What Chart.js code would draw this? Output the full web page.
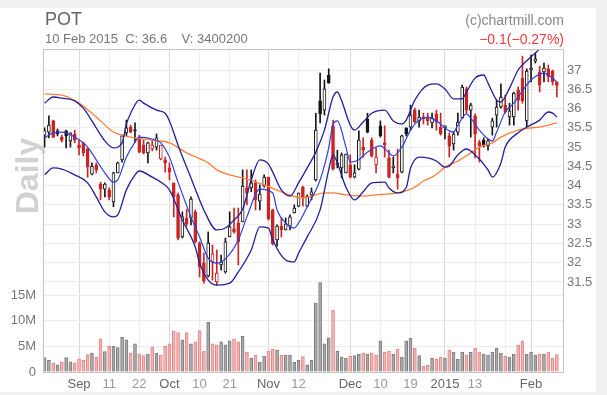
<!DOCTYPE html>
<html>
<head>
<meta charset="utf-8">
<script src="https://cdn.jsdelivr.net/npm/chart.js@4.4.1/dist/chart.umd.min.js"></script>
<style>
  html, body { margin: 0; padding: 0; background: #f0f0f0; }
  #wrap { position: relative; width: 607px; height: 395px; overflow: hidden; }
  #panel { position: absolute; left: 0; top: 8px; width: 596px; height: 384px; background: #fff; }
  canvas { position: absolute; left: 0; top: 0; }
  .t { position: absolute; font-family: 'Liberation Sans', Arial, sans-serif; white-space: pre; line-height: 1; }
</style>
</head>
<body>
<div id="wrap">
  <div id="panel"></div>
  <canvas id="chart" width="607" height="395"></canvas>
  <div class="t" style="left:45px;top:10px;font-size:18px;color:#666">POT</div>
  <div class="t" style="left:45px;top:32px;font-size:13px;color:#777">10 Feb 2015  C: 36.6    V: 3400200</div>
  <div class="t" style="right:43px;top:13px;font-size:14px;color:#888">(c)chartmill.com</div>
  <div class="t" style="right:43px;top:32px;font-size:14px;color:#f03a3a">−0.1(−0.27%)</div>
</div>
<script>
/* ── POT daily, 20 Aug 2014 – 10 Feb 2015 (one entry per trading day) ── */

const open = [35.31,35.39,35.68,35.42,35.26,35.42,35.16,35.34,35.05,35.11,
  34.95,34.30,34.54,34.04,33.91,33.89,33.58,34.33,34.67,35.37,
  35.52,35.44,35.26,35.05,34.85,34.95,35.00,34.69,34.67,34.46,
  34.07,33.76,32.67,33.16,33.16,33.32,32.51,31.99,31.66,32.02,
  31.50,31.94,31.76,32.67,32.88,33.03,33.06,33.94,33.94,34.07,
  33.60,33.99,34.22,33.37,32.59,32.95,32.85,32.95,33.29,33.47,
  33.96,33.47,33.76,34.15,36.20,35.96,36.87,35.55,34.54,34.46,
  34.33,34.54,34.22,34.43,35.00,35.73,35.18,34.54,35.55,35.11,
  34.72,34.46,34.30,34.35,35.50,35.52,35.96,35.68,35.78,35.75,
  35.63,35.86,35.52,35.50,35.29,35.08,35.39,35.75,36.51,35.96,
  35.81,35.13,35.18,35.03,35.52,35.83,36.04,36.09,35.78,35.78,
  36.48,36.79,35.68,37.00,37.23,36.95,36.95,37.03,36.97,36.69];
const high = [35.50,35.81,35.70,35.47,35.31,35.44,35.37,35.44,35.18,35.13,
  34.98,34.59,34.59,34.09,34.07,33.94,34.35,34.61,35.31,35.70,
  35.57,35.63,35.31,35.18,35.13,35.18,35.34,35.05,34.74,34.59,
  34.07,33.81,33.32,33.39,33.71,33.37,32.54,32.25,32.80,32.46,
  32.33,32.20,32.64,33.32,33.42,33.42,34.41,34.41,34.41,34.15,
  34.02,34.28,34.22,33.39,32.98,33.16,33.16,33.24,33.50,33.81,
  33.99,33.76,33.94,35.88,36.92,36.74,37.03,35.70,34.92,34.85,
  34.82,34.80,34.54,35.42,35.24,35.88,35.24,34.98,35.68,35.55,
  34.92,34.74,34.95,35.31,35.50,36.09,36.01,35.96,35.88,35.88,
  35.88,35.96,35.88,35.55,35.37,35.39,35.88,36.61,36.56,36.14,
  35.86,35.18,35.24,35.21,35.75,36.22,36.64,36.35,36.14,36.43,
  36.56,37.36,37.03,37.39,37.44,37.10,37.18,37.13,37.00,36.69];
const low = [35.00,35.24,35.24,35.29,35.13,34.98,35.00,35.11,34.80,34.77,
  34.22,34.28,34.33,33.63,33.71,33.63,33.45,34.33,34.61,35.29,
  35.37,35.13,34.85,34.82,34.59,34.90,34.92,34.67,34.35,34.15,
  33.19,32.59,32.64,32.95,32.98,32.51,31.63,31.47,31.63,31.55,
  31.42,31.81,31.73,32.67,32.77,31.94,33.06,33.50,33.84,33.37,
  33.37,33.96,33.11,32.46,32.43,32.67,32.85,32.85,33.29,33.45,
  33.47,33.45,33.63,34.12,35.63,35.83,36.66,34.41,34.46,34.20,
  34.33,34.20,34.20,34.41,34.74,35.37,34.74,34.33,35.26,34.74,
  34.20,34.33,33.91,34.33,35.29,35.44,35.63,35.52,35.60,35.57,
  35.50,35.44,35.31,35.21,34.74,34.92,35.31,35.75,35.88,35.26,
  34.72,34.61,35.00,34.92,35.31,35.52,36.01,35.88,35.57,35.57,
  35.96,36.14,35.52,36.69,37.18,36.43,36.69,36.69,36.61,36.30];
const close = [35.42,35.57,35.26,35.34,35.18,35.29,35.37,35.18,34.98,34.85,
  34.48,34.50,34.41,33.91,34.04,33.71,34.33,34.59,35.29,35.50,
  35.39,35.42,34.87,34.85,35.11,35.05,35.24,35.05,34.59,34.35,
  33.71,32.64,33.19,33.01,33.65,32.54,31.89,31.53,32.51,32.23,
  31.73,32.02,32.54,32.93,32.80,32.54,33.99,33.81,34.07,33.63,
  33.78,34.22,33.13,32.49,32.95,32.85,33.01,33.19,33.42,33.81,
  33.70,33.73,33.84,35.44,35.86,36.51,36.66,34.43,34.59,34.80,
  34.82,34.22,34.33,35.18,34.92,35.39,34.77,34.74,35.29,35.05,
  34.22,34.51,34.20,35.29,35.34,35.83,35.65,35.78,35.73,35.68,
  35.75,35.65,35.34,35.55,35.03,35.34,35.65,36.56,35.96,36.09,
  35.34,35.03,35.05,35.16,35.68,36.04,36.30,35.91,35.94,36.40,
  36.22,36.20,36.97,37.05,37.29,36.61,37.05,36.82,36.70,36.60];
// volume in millions of shares
const volume = [2.8,2.3,1.7,1.4,2.0,2.8,2.0,1.8,2.6,2.3,
  3.4,3.7,2.9,6.5,4.0,5.0,5.0,4.8,6.8,6.3,
  3.7,5.5,3.5,3.2,3.5,4.9,3.7,3.3,5.0,5.5,
  8.0,7.7,6.3,7.7,5.5,5.9,8.1,4.1,9.7,5.5,
  5.3,5.9,5.3,6.1,6.5,5.9,7.0,3.9,2.7,3.3,
  1.9,3.1,4.1,4.5,4.3,3.3,3.3,3.3,1.9,2.3,
  3.0,1.4,2.3,13.5,17.5,5.5,6.7,12.1,4.1,2.9,
  2.7,3.1,3.2,3.5,3.7,3.5,3.7,3.3,6.1,3.9,
  4.1,3.5,4.5,2.9,6.1,6.6,4.7,3.2,1.1,1.3,
  2.7,2.5,2.9,2.7,4.3,3.9,2.5,3.9,3.3,3.9,
  4.7,3.9,3.5,3.3,3.9,4.7,3.7,3.1,2.9,3.5,
  5.3,6.1,3.5,3.9,3.3,3.5,3.5,3.9,2.7,3.4];

// Bollinger bands and moving average (day index, price)
const upperIdx = [0,2,4,7,9,11,12,14,16,18,19,20,22,23,26,28,29,31,34,37,40,42,44,46,48,50,52,53,55,57,59,61,63,65,67,68,69,71,72,74,76,79,81,83,84,86,89,91,93,95,97,98,100,102,103,105,106,108,110,111,113,114,116,119];
const upperVal = [36.14,36.30,36.27,36.20,36.01,35.68,35.50,35.16,34.98,35.11,35.60,35.88,36.22,36.14,35.96,35.88,35.68,35.05,34.20,33.37,32.85,32.90,33.11,33.39,34.15,34.67,34.56,34.35,33.89,33.73,34.07,34.46,34.87,35.44,36.30,36.43,36.20,35.57,35.44,35.65,35.88,35.96,35.68,35.60,35.70,36.22,36.61,36.64,36.51,36.25,36.25,36.43,36.79,36.87,36.66,36.22,36.17,36.53,37.00,37.13,37.34,37.44,37.62,37.62];
const middleIdx = [0,2,4,7,10,12,14,16,17,19,21,22,25,27,29,31,34,36,38,40,42,45,47,50,53,54,56,58,59,61,64,66,67,68,70,71,73,75,78,80,81,83,85,87,89,91,94,95,96,98,99,101,103,104,105,107,109,110,113,116,117,119];
const middleVal = [35.24,35.37,35.39,35.26,35.00,34.67,34.33,34.09,34.15,34.74,35.13,35.26,35.21,35.11,34.74,34.09,33.19,32.67,32.12,31.99,32.10,32.59,33.19,33.91,33.81,33.37,33.03,32.90,33.03,33.45,34.15,34.98,35.60,35.68,35.00,34.61,34.67,34.87,35.03,34.85,34.77,35.00,35.44,35.70,35.78,35.68,35.42,35.39,35.57,35.86,35.75,35.44,35.21,35.16,35.39,35.91,36.14,36.30,36.74,36.92,36.87,36.69];
const lowerIdx = [0,2,4,7,10,12,14,16,17,19,21,22,25,27,29,32,35,36,38,40,43,45,48,50,52,53,56,58,59,61,64,66,67,68,70,72,74,76,79,80,82,84,85,87,89,91,93,94,96,98,100,103,104,106,107,110,112,115,117,118,119];
const lowerVal = [34.28,34.46,34.43,34.28,34.07,33.71,33.32,33.19,33.24,33.89,34.28,34.38,34.22,34.09,33.89,33.11,32.41,31.99,31.55,31.42,31.47,31.76,32.33,32.93,32.90,32.59,32.07,32.02,32.25,32.67,33.37,34.41,34.80,34.59,33.96,33.63,33.84,34.07,34.09,33.94,33.81,33.95,34.45,34.74,34.72,34.64,34.48,34.51,34.80,34.95,34.80,34.41,34.22,34.59,35.00,35.37,35.52,35.70,35.91,35.88,35.78];
const maIdx = [0,4,8,12,16,20,25,29,33,38,40,43,46,51,55,60,65,67,70,74,77,82,86,88,90,92,93,96,99,101,104,106,110,113,115,119];
const maVal = [36.38,36.35,36.14,35.78,35.39,35.26,35.18,35.11,34.85,34.59,34.41,34.28,34.20,34.02,33.84,33.68,33.81,33.81,33.76,33.73,33.76,33.81,33.96,34.12,34.22,34.38,34.48,34.64,34.85,35.00,35.11,35.26,35.44,35.50,35.52,35.63];

// axis ticks
const tickIdx = [8, 15, 22, 29, 36, 43, 52, 59, 66, 71, 78, 85, 93, 100, 107, 113];
const tickText = ['Sep', '11', '22', 'Oct', '10', '21', 'Nov', '12', '', 'Dec', '10', '19', '2015', '13', '', 'Feb'];
const monthIdx = [8, 29, 52, 71, 93, 113];
const priceTicks = [31.5, 32, 32.5, 33, 33.5, 34, 34.5, 35, 35.5, 36, 36.5, 37];
const volumeTicks = [0, 5, 10, 15];

const RED = '#cc2424', BLACK = '#161616';
const FONT = "'Liberation Sans', Arial, sans-serif";

const up = close.map((c, i) => i === 0 || c >= close[i - 1]);
const tone = up.map(u => u ? BLACK : RED);
const hollow = close.map((c, i) => c > open[i]);

const bandLine = (idx, vals, color, width) => ({
  type: 'line',
  data: idx.map((x, k) => ({ x, y: vals[k] })),
  borderColor: color,
  borderWidth: width,
  pointRadius: 0,
  cubicInterpolationMode: 'monotone',
  fill: false,
  yAxisID: 'y',
  order: 0,
});

// frame around the plot + the big "Daily" watermark
const decor = {
  id: 'decor',
  beforeDatasetsDraw(chart) {
    const { ctx } = chart;
    ctx.save();
    ctx.translate(38, 176);
    ctx.rotate(-Math.PI / 2);
    ctx.font = `bold 32px ${FONT}`;
    ctx.fillStyle = '#d2d2d2';
    ctx.textAlign = 'center';
    ctx.fillText('Daily', 0, 0);
    ctx.restore();
  },
  afterDraw(chart) {
    const { ctx, chartArea: a } = chart;
    ctx.save();
    ctx.strokeStyle = '#c4c4c4';
    ctx.lineWidth = 1;
    ctx.strokeRect(Math.round(a.left) + 0.5, Math.round(a.top) + 0.5, Math.round(a.right - a.left), Math.round(a.bottom - a.top));
    ctx.restore();
  }
};

new Chart(document.getElementById('chart'), {
  type: 'bar',
  data: {
    datasets: [
      bandLine(upperIdx, upperVal, '#20209c', 1.3),
      bandLine(middleIdx, middleVal, '#2f3fe0', 1.2),
      bandLine(lowerIdx, lowerVal, '#20209c', 1.3),
      bandLine(maIdx, maVal, '#ff7f3a', 1.3),
      {
        // candle bodies
        data: open.map((o, i) => ({ x: i, y: [o, close[i]] })),
        backgroundColor: hollow.map((h, i) => h ? '#ffffff' : tone[i]),
        borderColor: tone,
        borderWidth: 1,
        borderSkipped: false,
        barThickness: 3,
        minBarLength: 1,
        grouped: false,
        yAxisID: 'y',
        order: 1,
      },
      {
        // wicks
        data: low.map((l, i) => ({ x: i, y: [l, high[i]] })),
        backgroundColor: tone,
        borderWidth: 0,
        barThickness: 1,
        grouped: false,
        yAxisID: 'y',
        order: 2,
      },
      {
        data: volume.map((v, i) => ({ x: i, y: v })),
        backgroundColor: up.map(u => u ? '#aaaaaa' : '#f5b3b3'),
        borderColor: up.map(u => u ? '#7c7c7c' : '#e08686'),
        borderWidth: 1,
        borderSkipped: 'bottom',
        barThickness: 3,
        grouped: false,
        yAxisID: 'yv',
        order: 3,
      },
    ]
  },
  options: {
    responsive: false,
    devicePixelRatio: 1,
    animation: false,
    events: [],
    layout: { padding: { top: 49, left: 0, right: 0, bottom: 0 } },
    plugins: { legend: { display: false }, tooltip: { enabled: false } },
    scales: {
      x: {
        type: 'linear',
        offset: false,
        min: -0.37,
        max: 120.42,
        afterBuildTicks: s => { s.ticks = tickIdx.map(v => ({ value: v })); },
        afterFit: s => { s.height = 23; },
        grid: {
          offset: false,
          color: ctx => ctx.tick && monthIdx.includes(ctx.tick.value) ? '#dadada' : '#eeeeee',
          drawTicks: false,
        },
        border: { display: false },
        ticks: {
          autoSkip: false,
          maxRotation: 0,
          padding: 5,
          font: { family: FONT, size: 13 },
          color: ctx => ctx.tick && monthIdx.includes(ctx.tick.value) ? '#666' : '#999',
          callback: (v, i) => tickText[i],
        }
      },
      y: {
        position: 'right',
        min: 29.165,
        max: 37.545,
        afterBuildTicks: s => { s.ticks = priceTicks.map(v => ({ value: v })); },
        afterFit: s => { s.width = 44; },
        grid: { color: '#ececec', drawTicks: false },
        border: { display: false },
        ticks: { padding: 4, color: '#777', font: { family: FONT, size: 13 }, callback: v => String(v) }
      },
      yv: {
        position: 'left',
        min: 0,
        max: 63.2,
        afterBuildTicks: s => { s.ticks = volumeTicks.map(v => ({ value: v })); },
        afterFit: s => { s.width = 43; },
        grid: { color: '#ececec', drawTicks: false },
        border: { display: false },
        ticks: { padding: 7, color: '#777', font: { family: FONT, size: 13 }, callback: v => v === 0 ? '0' : v + 'M' }
      }
    }
  },
  plugins: [decor]
});
</script>
</body>
</html>
